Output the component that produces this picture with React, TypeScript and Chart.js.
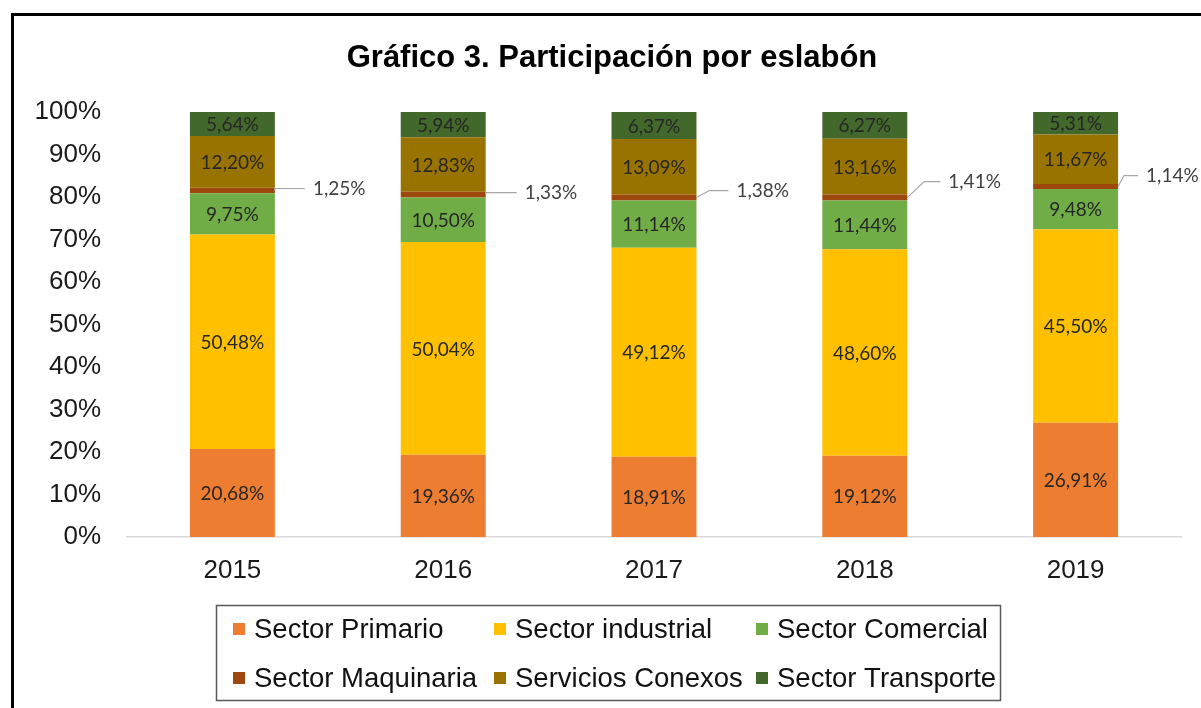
import React, { useEffect, useRef } from "react";
import { Chart, registerables } from "chart.js";

Chart.register(...registerables);

// ---------- data ----------
const titleText = "Gráfico 3. Participación por eslabón";
const years = ["2015", "2016", "2017", "2018", "2019"];
const seriesNames = [
  "Sector Primario",
  "Sector industrial",
  "Sector Comercial",
  "Sector Maquinaria",
  "Servicios Conexos",
  "Sector Transporte",
];
const primario = [20.68, 19.36, 18.91, 19.12, 26.91];
const industrial = [50.48, 50.04, 49.12, 48.6, 45.5];
const comercial = [9.75, 10.5, 11.14, 11.44, 9.48];
const maquinaria = [1.25, 1.33, 1.38, 1.41, 1.14];
const conexos = [12.2, 12.83, 13.09, 13.16, 11.67];
const transporte = [5.64, 5.94, 6.37, 6.27, 5.31];
const yMin = 0;
const yMax = 100;
const yStep = 10;

// ---------- styles / layout ----------
const colors = ["#ED7D31", "#FFC000", "#70AD47", "#9E480E", "#997300", "#43682B"];
const outsideSeries = 3; // Maquinaria labels drawn outside with leader line
const outsideDx = [38, 39, 40, 41, 28];
const outsideDy = [-2, -2, -7, -16, -11];
const outsideElbow = [0, 0, 13, 17, 6];
const legendCols = [233, 494, 756];
const legendRows = [629, 678];

const fmt = (v: number) => v.toFixed(2).replace(".", ",") + "%";

const AXIS_FONT = '"Liberation Sans", Arial, sans-serif';
const LABEL_FONT = 'Lato, "Open Sans", sans-serif';

const decorPlugin = {
  id: "decor",
  afterDatasetsDraw(chart: any) {
    const ctx = chart.ctx;
    ctx.save();
    ctx.font = `19px ${LABEL_FONT}`;
    ctx.textBaseline = "middle";
    chart.data.datasets.forEach((ds: any, di: number) => {
      const meta = chart.getDatasetMeta(di);
      meta.data.forEach((el: any, i: number) => {
        const v = ds.data[i];
        const cy = (el.y + el.base) / 2;
        if (di === outsideSeries) {
          const right = el.x + el.width / 2;
          const ly = cy + outsideDy[i];
          const tx = right + outsideDx[i];
          ctx.strokeStyle = "#A6A6A6";
          ctx.lineWidth = 1.2;
          ctx.beginPath();
          ctx.moveTo(right, cy);
          ctx.lineTo(right + outsideElbow[i], ly);
          ctx.lineTo(tx - 8, ly);
          ctx.stroke();
          ctx.fillStyle = "#404040";
          ctx.textAlign = "left";
          ctx.fillText(fmt(v), tx, ly);
        } else {
          ctx.fillStyle = "#262626";
          ctx.textAlign = "center";
          ctx.fillText(fmt(v), el.x, cy + 1);
        }
      });
    });
    ctx.restore();
  },
  afterDraw(chart: any) {
    const ctx = chart.ctx;
    ctx.save();
    // outer frame
    ctx.strokeStyle = "#000";
    ctx.lineWidth = 3;
    ctx.beginPath();
    ctx.moveTo(12.5, 708);
    ctx.lineTo(12.5, 14.5);
    ctx.lineTo(1201, 14.5);
    ctx.stroke();
    // title
    ctx.fillStyle = "#000";
    ctx.font = `bold 31px ${AXIS_FONT}`;
    ctx.textAlign = "center";
    ctx.textBaseline = "middle";
    ctx.fillText(titleText, 612, 58);
    // legend box
    ctx.strokeStyle = "#595959";
    ctx.lineWidth = 1.5;
    ctx.strokeRect(216.5, 605.5, 784, 95);
    ctx.font = `27.5px ${AXIS_FONT}`;
    ctx.textAlign = "left";
    seriesNames.forEach((name, k) => {
      const col = k % 3;
      const row = Math.floor(k / 3);
      const x = legendCols[col];
      const y = legendRows[row];
      ctx.fillStyle = colors[k];
      ctx.fillRect(x, y - 6, 12, 12);
      ctx.fillStyle = "#111";
      ctx.fillText(name, x + 21, y + 1);
    });
    ctx.restore();
  },
};

export default function App() {
  const ref = useRef<HTMLCanvasElement | null>(null);
  useEffect(() => {
    document.body.style.margin = "0";
    const canvas = ref.current;
    if (!canvas) return;
    const series = [primario, industrial, comercial, maquinaria, conexos, transporte];
    const chart = new Chart(canvas, {
      type: "bar",
      data: {
        labels: years,
        datasets: series.map((d, k) => ({
          label: seriesNames[k],
          data: d,
          backgroundColor: colors[k],
          borderWidth: 0,
          barPercentage: 0.403,
          categoryPercentage: 1,
        })),
      },
      options: {
        responsive: false,
        animation: false,
        devicePixelRatio: 1,
        layout: { padding: { top: 112, right: 20, bottom: 111, left: 0 } },
        plugins: {
          legend: { display: false },
          title: { display: false },
          tooltip: { enabled: false },
        },
        scales: {
          x: {
            stacked: true,
            grid: { display: false, drawTicks: false },
            border: { display: true, color: "#D9D9D9", width: 1.5 },
            ticks: {
              padding: 18,
              color: "#1a1a1a",
              font: { size: 26, family: AXIS_FONT },
            },
            afterFit: (s: any) => {
              s.height = 60;
            },
          },
          y: {
            stacked: true,
            min: yMin,
            max: yMax,
            grid: { display: false, drawTicks: false },
            border: { display: false },
            ticks: {
              stepSize: yStep,
              padding: 26,
              color: "#1a1a1a",
              font: { size: 26, family: AXIS_FONT },
              callback: (v: any) => v + "%",
            },
            afterFit: (s: any) => {
              s.width = 127;
            },
          },
        },
      },
      plugins: [decorPlugin],
    });
    return () => chart.destroy();
  }, []);
  return (
    <div style={{ width: 1201, height: 708, position: "relative", background: "#fff" }}>
      <canvas ref={ref} width={1201} height={708} style={{ display: "block" }} />
    </div>
  );
}
